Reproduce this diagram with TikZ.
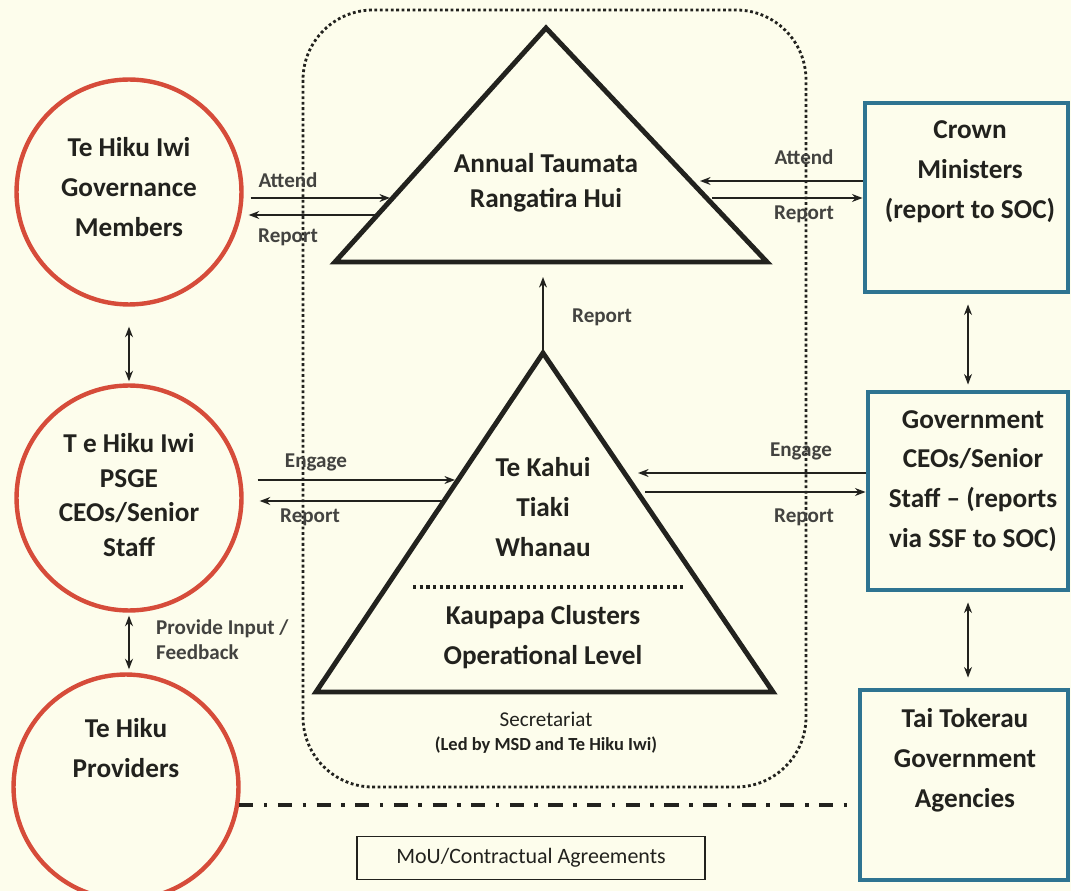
\documentclass[tikz,border=0pt]{standalone}
\usepackage{fontspec}
\setmainfont{Carlito}
\usetikzlibrary{positioning, arrows.meta}
\definecolor{paper}{RGB}{253,253,236}
\definecolor{ink}{RGB}{34,34,30}
\definecolor{iwired}{RGB}{214,76,58}
\definecolor{crownblue}{RGB}{46,116,145}
\newcommand{\headsize}{\fontsize{15.5}{22.7}\selectfont\bfseries}
\newcommand{\tagsize}{\fontsize{12}{14.2}\selectfont\bfseries}

\begin{document}
\begin{tikzpicture}[
        x = 0.02cm, y = -0.02cm,
        every node/.style = {text = ink},
        iwi/.style = {circle, draw = iwired, line width = 2.5pt, minimum size = 4.5cm},
        agency/.style = {rectangle, draw = crownblue, line width = 2.8pt},
        heading/.style = {align = center, font = \headsize},
        tight/.style = {align = center, font = \fontsize{15.5}{19.8}\selectfont\bfseries},
        tag/.style = {font = \tagsize, text = ink!85},
        pyramid/.style = {draw = ink, line width = 2.8pt, line join = miter},
        dots/.style = {draw = ink, line width = 1.6pt, dash pattern = on 1.6pt off 1.5pt},
        link/.style = {-{Stealth[length = 6pt, width = 4.5pt]}, line width = 1pt, draw = ink},
        both/.style = {{Stealth[length = 6pt, width = 4.5pt]}-{Stealth[length = 6pt, width = 4.5pt]}, line width = 1pt, draw = ink},
        legend/.style = {draw = ink, line width = 1pt, minimum width = 6.96cm, minimum height = 0.86cm, font = \fontsize{12.5}{14}\selectfont}
      ]
      \path[use as bounding box, fill = paper] (0,0) rectangle (1071,891);

      \draw[dots, rounded corners = 1.4cm] (303,10) rectangle (806,787);

      \coordinate (hubL) at (335,262);
      \coordinate (hubR) at (767,262);
      \coordinate (hubT) at (546,28);
      \coordinate (tiakiL) at (316,692);
      \coordinate (tiakiR) at (773,692);
      \coordinate (tiakiT) at (543,353);
      \draw[pyramid] (hubL) -- (hubT) -- (hubR) -- cycle;
      \draw[pyramid] (tiakiL) -- (tiakiT) -- (tiakiR) -- cycle;
      \draw[dots, line width = 1.8pt, dash pattern = on 1.8pt off 2pt] (413,587) -- (683,587);

      \node[tight] (hui) at (546,183) {Annual Taumata\\Rangatira Hui};
      \node[heading] (whanau) at (543,507) {Te Kahui\\Tiaki\\Whanau};
      \node[heading] (kaupapa) at (543,637) {Kaupapa Clusters\\Operational Level};
      \node[font = \fontsize{12}{14}\selectfont] (secretariat) at (546,719) {Secretariat};
      \node[font = \fontsize{10.5}{12}\selectfont\bfseries] (msd) at (546,745) {(Led by MSD and Te Hiku Iwi)};

      \node[iwi] (governance) at (129,192) {};
      \node[heading] (governancetext) at (129,187) {Te Hiku Iwi\\Governance\\Members};
      \node[iwi] (psge) at (129,498) {};
      \node[tight] (psgetext) at (129,495) {T e Hiku Iwi\\PSGE\\CEOs/Senior\\Staff};
      \node[iwi] (providers) at (126,787) {};
      \node[heading] (providerstext) at (126,748) {Te Hiku\\Providers};

      \node[agency, minimum width = 4.06cm, minimum height = 3.78cm] (crown) at (966.5,197.5) {};
      \node[heading] (crowntext) at (970,172) {Crown\\Ministers\\(report to SOC)};
      \node[agency, minimum width = 4.0cm, minimum height = 3.96cm] (ceos) at (968,491) {};
      \node[heading] (ceostext) at (973,481) {Government\\CEOs/Senior\\Staff -- (reports\\via SSF to SOC)};
      \node[agency, minimum width = 4.16cm, minimum height = 3.8cm] (tai) at (964,785) {};
      \node[heading] (taitext) at (965,760) {Tai Tokerau\\Government\\Agencies};

      \coordinate (attendL) at (390,198);
      \coordinate (reportL) at (379,215);
      \coordinate (attendR) at (700,181);
      \coordinate (reportR) at (712,198);
      \coordinate (engageL) at (455,480);
      \coordinate (backL) at (446,501);
      \coordinate (engageR) at (638,473);
      \coordinate (backR) at (645,492);
      \coordinate (up) at (543,277);

      \draw[link, shorten <= 0.14cm] (governance.east |- attendL) -- (attendL);
      \draw[link, shorten >= 0.1cm] (reportL) -- (governance.east |- reportL);
      \draw[link] (crown.west |- attendR) -- (attendR);
      \draw[link] (reportR) -- (crown.west |- reportR);
      \draw[link, shorten <= 0.28cm] (psge.east |- engageL) -- (engageL);
      \draw[link, shorten >= 0.32cm] (backL) -- (psge.east |- backL);
      \draw[link] (ceos.west |- engageR) -- (engageR);
      \draw[link] (backR) -- (ceos.west |- backR);
      \draw[link] (tiakiT) -- (up);

      \draw[both, shorten <= 0.4cm, shorten >= 0.04cm] (governance.south) -- (psge.north);
      \draw[both, shorten <= 0.06cm, shorten >= 0.06cm] (psge.south) -- (providers.north -| psge.south);
      \draw[both, shorten <= 0.2cm, shorten >= 0.1cm] (crown.south -| ceos.north) -- (ceos.north);
      \draw[both, shorten <= 0.2cm, shorten >= 0.2cm] (ceos.south) -- (ceos.south |- tai.north);

      \draw[line width = 1.8pt, draw = ink, dash pattern = on 8pt off 6pt on 2pt off 6pt] (providers.-9) -- (providers.-9 -| tai.west);

      \node[tag] (attendtagL) at (288,180) {Attend};
      \node[tag] (reporttagL) at (288,237) {Report};
      \node[tag] (attendtagR) at (804,157) {Attend};
      \node[tag] (reporttagR) at (804,214) {Report};
      \node[tag] (reporttagUp) at (602,317) {Report};
      \node[tag] (engagetagL) at (316,462) {Engage};
      \node[tag] (backtagL) at (310,517) {Report};
      \node[tag] (engagetagR) at (801,451) {Engage};
      \node[tag] (backtagR) at (804,517) {Report};
      \node[tag, align = left, anchor = west] (inputtag) at (150,640) {Provide Input /\\Feedback};

      \node[legend] (mou) at (531,858) {MoU/Contractual Agreements};
    \end{tikzpicture}
\end{document}
